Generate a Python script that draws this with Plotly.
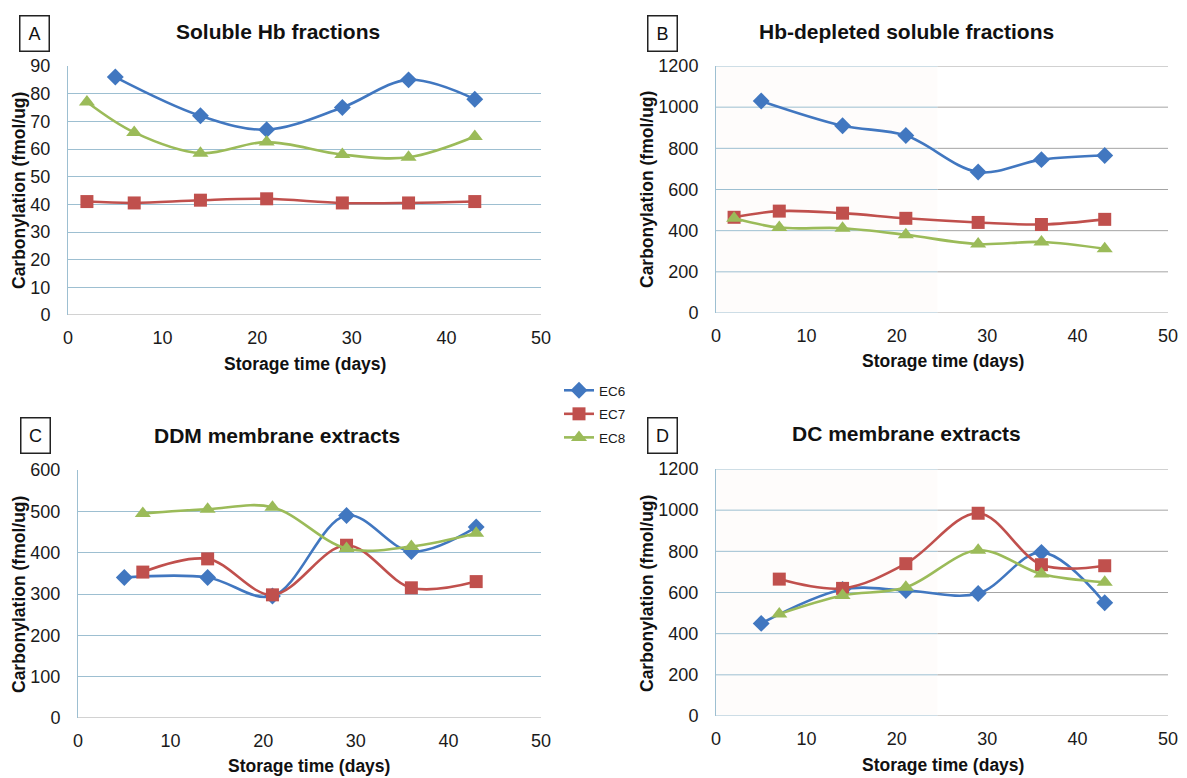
import plotly.graph_objects as go

# ---------------- data ----------------
series_names = ["EC6", "EC7", "EC8"]
colors = {"EC6": "#4177c0", "EC7": "#c0504d", "EC8": "#9bbb59"}
symbols = {"EC6": "diamond", "EC7": "square", "EC8": "triangle-up"}
marker_sizes = {"EC6": 13, "EC7": 13, "EC8": 14}

# Panel A - Soluble Hb fractions
a_ec6_days = [5, 14, 21, 29, 36, 43]
a_ec6_vals = [86, 72, 67, 75, 85, 78]
a_ec7_days = [2, 7, 14, 21, 29, 36, 43]
a_ec7_vals = [41, 40.5, 41.5, 42, 40.5, 40.5, 41]
a_ec8_days = [2, 7, 14, 21, 29, 36, 43]
a_ec8_vals = [77, 66, 58.5, 62.5, 58, 57, 64.5]

# Panel B - Hb-depleted soluble fractions
b_ec6_days = [5, 14, 21, 29, 36, 43]
b_ec6_vals = [1030, 910, 862, 685, 745, 765]
b_ec7_days = [2, 7, 14, 21, 29, 36, 43]
b_ec7_vals = [465, 495, 485, 460, 440, 430, 455]
b_ec8_days = [2, 7, 14, 21, 29, 36, 43]
b_ec8_vals = [460, 415, 412, 380, 335, 345, 312]

# Panel C - DDM membrane extracts
c_ec6_days = [5, 14, 21, 29, 36, 43]
c_ec6_vals = [340, 340, 295, 490, 403, 462]
c_ec7_days = [7, 14, 21, 29, 36, 43]
c_ec7_vals = [353, 385, 298, 418, 315, 330]
c_ec8_days = [7, 14, 21, 29, 36, 43]
c_ec8_vals = [495, 505, 510, 410, 415, 447]

# Panel D - DC membrane extracts
d_ec6_days = [5, 14, 21, 29, 36, 43]
d_ec6_vals = [450, 615, 610, 595, 795, 550]
d_ec7_days = [7, 14, 21, 29, 36, 43]
d_ec7_vals = [665, 620, 740, 985, 735, 730]
d_ec8_days = [7, 14, 21, 29, 36, 43]
d_ec8_vals = [495, 585, 625, 805, 690, 650]

panel_letters = ["A", "B", "C", "D"]
panel_titles = ["Soluble Hb fractions", "Hb-depleted soluble fractions",
                "DDM membrane extracts", "DC membrane extracts"]
y_ranges = [[0, 90], [0, 1200], [0, 600], [0, 1200]]
y_dticks = [10, 200, 100, 200]
x_range = [0, 50]
x_dtick = 10
x_title = "Storage time (days)"
y_title = "Carbonylation (fmol/ug)"

panel_data = [
    [(a_ec6_days, a_ec6_vals), (a_ec7_days, a_ec7_vals), (a_ec8_days, a_ec8_vals)],
    [(b_ec6_days, b_ec6_vals), (b_ec7_days, b_ec7_vals), (b_ec8_days, b_ec8_vals)],
    [(c_ec6_days, c_ec6_vals), (c_ec7_days, c_ec7_vals), (c_ec8_days, c_ec8_vals)],
    [(d_ec6_days, d_ec6_vals), (d_ec7_days, d_ec7_vals), (d_ec8_days, d_ec8_vals)],
]

# ---------------- layout (target pixel positions) ----------------
W, H = 1187, 778


def px(x):
    return x / W


def py(y):
    return 1 - y / H


boxes = [(68, 541, 66, 315), (716, 1168, 66, 313), (78, 541, 470, 718), (716, 1168, 469, 716)]
letter_pos = [(34, 33), (662, 33), (35, 435), (662, 435)]
title_pos = [(278, 32), (906, 32), (277, 435), (906, 434)]
xtitle_pos = [(305, 364), (943, 361), (309, 766), (943, 765)]
ytitle_pos = [(19, 191), (647, 190), (19, 595), (647, 594)]
blue_grid = "#9dbfd1"
gray_grid = "#a4a4a4"
pink_bg = "rgba(250,228,220,0.12)"

FONT = "Liberation Sans, Arial, sans-serif"
fig = go.Figure()
annotations = []
shapes = []
layout = {}

for i in range(4):
    n = "" if i == 0 else str(i + 1)
    xa, ya = "x" + n, "y" + n
    for j, name in enumerate(series_names):
        xs, ys = panel_data[i][j]
        fig.add_trace(go.Scatter(
            x=xs, y=ys, mode="lines+markers", name=name,
            line=dict(color=colors[name], width=2.6, shape="spline", smoothing=1.0),
            marker=dict(symbol=symbols[name], size=marker_sizes[name], color=colors[name]),
            xaxis=xa, yaxis=ya, showlegend=(i == 0), legendgroup=name))
    l, r, t, b = boxes[i]
    two_tone = i in (1, 3)
    layout["xaxis" + n] = dict(
        domain=[px(l), px(r)], range=x_range, dtick=x_dtick, anchor=ya,
        showgrid=False, zeroline=False, showline=False, automargin=False,
        ticks="", ticklabelstandoff=10,
        tickfont=dict(family=FONT, size=18, color="#1a1a1a"))
    layout["yaxis" + n] = dict(
        domain=[py(b), py(t)], range=y_ranges[i], dtick=y_dticks[i], anchor=xa,
        showgrid=not two_tone, gridcolor=blue_grid, gridwidth=1, automargin=False,
        zeroline=False, showline=True, linecolor=blue_grid, linewidth=1,
        ticks="", ticklabelstandoff=13,
        tickfont=dict(family=FONT, size=18, color="#1a1a1a"))
    if two_tone:
        # left part of these panels shows bluish grid + faint tint, right part gray grid
        split = 24.5
        shapes.append(dict(type="rect", xref=xa, yref=ya + " domain", x0=0, x1=split,
                           y0=0, y1=1, fillcolor=pink_bg, line=dict(width=0), layer="below"))
        v = y_ranges[i][0]
        while v <= y_ranges[i][1]:
            shapes.append(dict(type="line", xref=xa, yref=ya, x0=0, x1=split, y0=v, y1=v,
                               line=dict(color=blue_grid, width=1), layer="below"))
            shapes.append(dict(type="line", xref=xa, yref=ya, x0=split, x1=x_range[1],
                               y0=v, y1=v, line=dict(color=gray_grid, width=1), layer="below"))
            v += y_dticks[i]
    else:
        shapes.append(dict(type="line", xref=xa + " domain", yref=ya, x0=0, x1=1, y0=0, y1=0,
                           line=dict(color=gray_grid, width=1), layer="below"))
    lx, ly = letter_pos[i]
    annotations.append(dict(text=panel_letters[i], x=px(lx), y=py(ly), xref="paper", yref="paper",
                            xanchor="center", yanchor="middle", showarrow=False,
                            font=dict(family=FONT, size=18, color="#111111"),
                            bordercolor="#222222", borderwidth=1.5, borderpad=5,
                            width=18, height=24, bgcolor="white"))
    tx, ty = title_pos[i]
    annotations.append(dict(text="<b>" + panel_titles[i] + "</b>", x=px(tx), y=py(ty),
                            xref="paper", yref="paper", xanchor="center", yanchor="middle",
                            showarrow=False, font=dict(family=FONT, size=21, color="#111111")))
    xx, xy = xtitle_pos[i]
    annotations.append(dict(text="<b>" + x_title + "</b>", x=px(xx), y=py(xy),
                            xref="paper", yref="paper", xanchor="center", yanchor="middle",
                            showarrow=False, font=dict(family=FONT, size=17.5, color="#111111")))
    yx, yy = ytitle_pos[i]
    annotations.append(dict(text="<b>" + y_title + "</b>", x=px(yx), y=py(yy),
                            xref="paper", yref="paper", xanchor="center", yanchor="middle",
                            showarrow=False, textangle=-90,
                            font=dict(family=FONT, size=17.5, color="#111111")))

fig.update_layout(
    width=W, height=H, margin=dict(l=0, r=0, t=0, b=0, pad=0, autoexpand=False),
    paper_bgcolor="white", plot_bgcolor="white",
    annotations=annotations, shapes=shapes,
    legend=dict(x=px(559), y=py(375), xanchor="left", yanchor="top",
                font=dict(family=FONT, size=13.5, color="#1a1a1a"),
                tracegroupgap=3, itemwidth=30, bgcolor="rgba(0,0,0,0)"),
    **layout)

fig.write_html("out.html")
